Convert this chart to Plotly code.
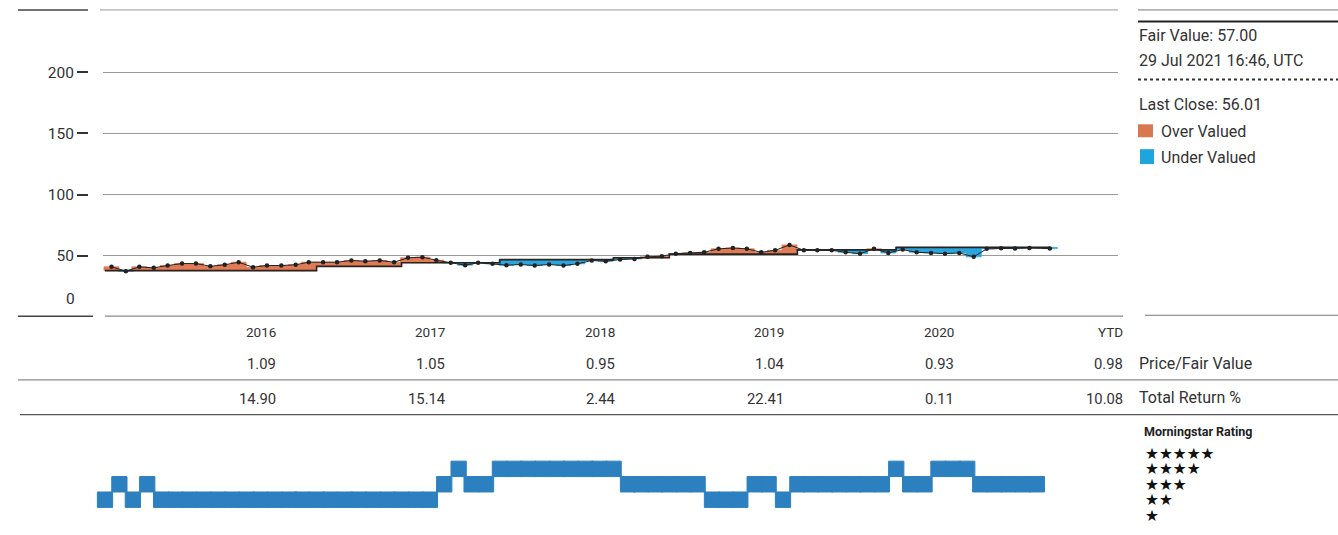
import pandas as pd
import plotly.graph_objects as go

W, H = 1338, 535

# ---------------- data ----------------
months = pd.date_range("2016-01-01", "2021-07-01", freq="MS")  # Jan 2016 .. Jul 2021

price = [41.1, 37.6, 41.1, 40.3, 42.2, 43.8, 43.8, 41.6, 42.8, 44.9, 40.8, 42.2,
         42.2, 42.8, 44.9, 44.9, 44.9, 46.3, 45.7, 46.3, 44.9, 48.5, 49.0, 46.5,
         44.4, 42.5, 44.4, 43.6, 42.5, 43.0, 42.2, 43.0, 42.2, 43.6, 46.3, 45.7,
         47.1, 47.6, 49.3, 49.8, 51.9, 52.5, 53.0, 55.8, 56.5, 55.8, 53.0, 54.6,
         59.0, 54.6, 54.6, 54.6, 53.0, 51.9, 55.8, 52.5, 55.2, 53.0, 52.5, 51.9,
         52.5, 49.3, 55.8, 56.2, 56.0, 56.5, 56.01]

fair_value = [38.0] * 15 + [41.5] * 6 + [44.5] * 7 + [47.0] * 8 + [48.5] * 4 + \
             [51.5] * 9 + [55.0] * 7 + [57.0] * 11

rating = [2, 3, 2, 3] + [2] * 20 + [3, 4, 3, 3] + [4] * 9 + [3] * 6 + [2] * 3 + \
         [3, 3, 2] + [3] * 7 + [4, 3, 3] + [4] * 3 + [3] * 5

years = ["2016", "2017", "2018", "2019", "2020", "YTD"]
year_ends = ["2017-01-01", "2018-01-01", "2019-01-01", "2020-01-01", "2021-01-01", "2022-01-01"]
price_fair_value = ["1.09", "1.05", "0.95", "1.04", "0.93", "0.98"]
total_return = ["14.90", "15.14", "2.44", "22.41", "0.11", "10.08"]

y_ticks = [50, 100, 150, 200]
star_levels = [1, 2, 3, 4, 5]

# ---------------- helpers ----------------
T0 = pd.Timestamp("2016-01-01")
PX0, PX_PER_YEAR = 105, 169.5


def X(p):
    return p / W


def Y(p):
    return 1 - p / H


def date_at(p):
    return T0 + pd.Timedelta(days=(p - PX0) / PX_PER_YEAR * 365.25)


def px_of(d):
    return PX0 + (pd.Timestamp(d) - T0).days / 365.25 * PX_PER_YEAR


FONT = "Roboto, Liberation Sans, sans-serif"
TXT = "#333333"
ORANGE = "#E07B56"
BLUE = "#2AA7DE"
RATE_BLUE = "#2C80BF"

price_dates = list(months + pd.Timedelta(days=14))
price_dates[-1] = pd.Timestamp("2021-07-29")
month_ms = 365.25 / 12 * 86400000

fig = go.Figure()

# valuation fill bars (price vs fair value)
base = [min(p, f) for p, f in zip(price, fair_value)]
height = [abs(p - f) for p, f in zip(price, fair_value)]
colors = [ORANGE if p >= f else BLUE for p, f in zip(price, fair_value)]
fig.add_trace(go.Bar(x=price_dates, y=height, base=base, width=[month_ms * 1.06] * len(price),
                     marker=dict(color=colors, line=dict(width=0.8, color=colors)),
                     xaxis="x", yaxis="y"))

# fair value step line
fv_x = list(months) + [price_dates[-1]]
fv_y = fair_value + [fair_value[-1]]
fig.add_trace(go.Scatter(x=fv_x, y=fv_y, mode="lines",
                         line=dict(color="#2a2320", width=1.6, shape="hv"),
                         xaxis="x", yaxis="y"))

# price line with monthly dots
fig.add_trace(go.Scatter(x=price_dates, y=price, mode="lines+markers",
                         line=dict(color="#222222", width=1),
                         marker=dict(color="#222222", size=4.5),
                         xaxis="x", yaxis="y"))

# rating bars
fig.add_trace(go.Bar(x=list(months), y=[1] * len(rating), base=[r - 0.5 for r in rating],
                     width=[month_ms * 1.08] * len(rating),
                     marker=dict(color=RATE_BLUE, line=dict(width=1, color=RATE_BLUE)),
                     xaxis="x2", yaxis="y2"))

# ---------------- layout ----------------
fig.update_layout(
    width=W, height=H,
    margin=dict(l=0, r=0, t=0, b=0),
    paper_bgcolor="white", plot_bgcolor="rgba(0,0,0,0)",
    showlegend=False, barmode="overlay",
    font=dict(family=FONT, color=TXT),
    xaxis=dict(domain=[X(103), X(1118)], range=[date_at(103), date_at(1118)], visible=False,
               type="date"),
    yaxis=dict(domain=[Y(318), Y(10)], range=[0, 250], anchor="free", position=X(88),
               tickvals=y_ticks, ticktext=[str(v) for v in y_ticks],
               ticks="outside", ticklen=11, tickwidth=2, tickcolor="#333333",
               showgrid=True, gridcolor="#9a9a9a", gridwidth=1, zeroline=False, showline=False,
               tickfont=dict(family=FONT, size=15.5, color=TXT)),
    xaxis2=dict(domain=[X(90), X(1118)], range=[date_at(90), date_at(1118)], visible=False,
                type="date", anchor="y2"),
    yaxis2=dict(domain=[Y(524.75), Y(447.25)], range=[0.5, 5.5], anchor="free", side="right",
                position=X(1144), tickvals=star_levels, ticktext=["★" * s for s in star_levels],
                ticks="", showgrid=False, zeroline=False, showline=False,
                tickfont=dict(family="DejaVu Sans", size=15.5, color="#111111")),
)

shapes = []


def hline(x0, x1, y, color, width, dash="solid"):
    shapes.append(dict(type="line", xref="paper", yref="paper", x0=X(x0), x1=X(x1), y0=Y(y), y1=Y(y),
                       line=dict(color=color, width=width, dash=dash)))


hline(18, 88, 9, "#444444", 1.5)
hline(100, 1118, 9, "#9a9a9a", 1)
hline(1138, 1338, 9, "#777777", 1)
hline(1138, 1338, 20.5, "#222222", 2)
hline(1138, 1338, 79, "#333333", 2, "dot")
hline(18, 93, 317, "#444444", 1.5)
hline(105, 1123, 317, "#8a8a8a", 1.2)
hline(1145, 1338, 316, "#777777", 1.2)
hline(18, 1338, 381, "#8a8a8a", 1.2)
hline(20, 1338, 416, "#555555", 1.4)

shapes.append(dict(type="rect", xref="paper", yref="paper", x0=X(1138), x1=X(1153), y0=Y(137), y1=Y(124),
                   fillcolor="#D9774F", line=dict(width=0)))
shapes.append(dict(type="rect", xref="paper", yref="paper", x0=X(1140), x1=X(1154), y0=Y(164), y1=Y(149),
                   fillcolor="#1EA5DC", line=dict(width=0)))
fig.update_layout(shapes=shapes)

ann = []


def text(x, y, s, size=16, anchor="left", yref="paper", color=TXT, yshift=0, bold=False):
    ann.append(dict(x=x, y=y, xref="paper", yref=yref, text=("<b>%s</b>" % s) if bold else s,
                    showarrow=False, xanchor=anchor, yanchor="middle", yshift=yshift,
                    font=dict(family=FONT, size=size, color=color)))


# "0" label sits above the base line
text(X(77), 0, "0", size=15.5, anchor="right", yref="y", yshift=18)

# right-side panel
text(X(1137), Y(35), "Fair Value: 57.00")
text(X(1137), Y(60), "29 Jul 2021 16:46, UTC")
text(X(1137), Y(104), "Last Close: 56.01")
text(X(1159), Y(131), "Over Valued")
text(X(1159), Y(157), "Under Valued")
text(X(1137), Y(365), "Price/Fair Value")
text(X(1137), Y(399), "Total Return %")
text(X(1142), Y(433), "Morningstar Rating", size=12.5, color="#222222", bold=True)

# table rows: each column ends at its year boundary on the time scale
for yr, ye, pf, tr in zip(years, year_ends, price_fair_value, total_return):
    xr = X(px_of(ye) + 3)
    text(xr, Y(333), yr, size=13.5, anchor="right")
    text(xr, Y(365), pf, size=14.8, anchor="right")
    text(xr, Y(400), tr, size=14.8, anchor="right")

fig.update_layout(annotations=ann)

fig.write_html("out.html", config={"displayModeBar": False},
               post_script="document.body.style.margin='0';")
